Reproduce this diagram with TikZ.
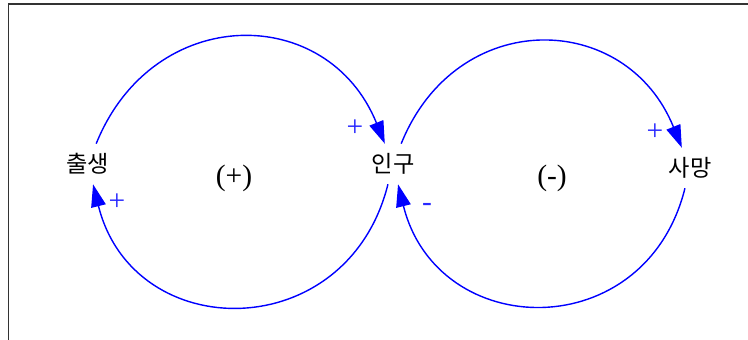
\documentclass[tikz,border=0pt]{standalone}
\usepackage{fontspec}
\setmainfont{Liberation Serif}
\newfontfamily\krfont{Noto Sans CJK KR}
\usepackage{xcolor}
\usetikzlibrary{arrows.meta}
\definecolor{linkblue}{RGB}{0,0,255}
\definecolor{signblue}{RGB}{40,40,255}

\begin{document}
\begin{tikzpicture}[
  varnode/.style={minimum height=1cm, inner sep=3pt, font=\krfont\fontsize{16.5}{18}\selectfont},
  loopsign/.style={inner sep=0pt, font=\fontsize{21}{23}\selectfont},
  polarity/.style={inner sep=0pt, text=signblue, font=\fontsize{21}{23}\selectfont},
  link/.style={draw=linkblue, line width=1pt, -{Triangle[length=16pt,width=10.5pt]}},
]
  \useasboundingbox (0,0) rectangle (18.7,8.5);

  % Frame
  \draw[black!80, line width=0.8pt] (0.21,0) -- (0.21,8.4) -- (18.7,8.4);

  % Variables
  \node[varnode] (birth) at (2.2,4.4) {출생};
  \node[varnode] (pop) at (9.825,4.4) {인구};
  \node[varnode] (death) at (17.25,4.3) {사망};

  % Loop labels
  \node[loopsign] (loopR) at (5.85,4.05) {(+)};
  \node[loopsign] (loopB) at (13.8,4.05) {(-)};

  % Causal links
  \draw[link] (birth) to[out=68, in=112, looseness=1.35] (pop);
  \draw[link] (pop) to[out=-104, in=-76, looseness=1.45] (birth);
  \draw[link] (pop) to[out=68, in=112, looseness=1.35] (death);
  \draw[link] (death) to[out=-104, in=-76, looseness=1.45] (pop);

  % Link polarities
  \node[polarity] (p1) at (8.875,5.3) {+};
  \node[polarity] (p2) at (2.925,3.45) {+};
  \node[polarity] (p3) at (16.375,5.2) {+};
  \node[polarity] (p4) at (10.675,3.325) {-};
\end{tikzpicture}
\end{document}
